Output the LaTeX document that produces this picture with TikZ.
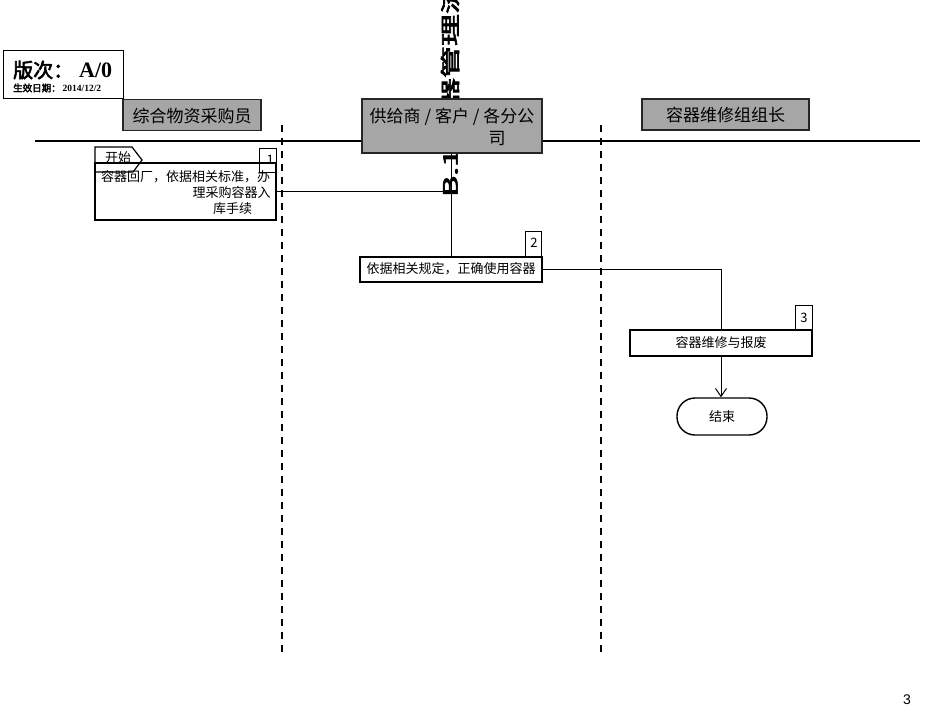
\documentclass[tikz,border=0pt]{standalone}
\usepackage{fontspec}
\setmainfont{Noto Sans CJK SC}
\newfontfamily\cjkb[FakeBold=3]{Noto Sans CJK SC}
\newfontfamily\serifb{Liberation Serif}
\newfontfamily\pnum{Liberation Sans}
\usetikzlibrary{arrows.meta}
\definecolor{lanegray}{RGB}{166,166,166}
\tikzset{
  lanehead/.style={draw=black!85, line width=1.6pt, fill=lanegray, inner sep=0pt},
  stepbox/.style={draw, line width=1.6pt, inner sep=0pt},
  numtag/.style={draw, line width=0.8pt, inner sep=0pt},
  txt/.style={inner sep=0pt, font=\fontsize{13}{15}\selectfont},
  headtxt/.style={inner sep=0pt, font=\fontsize{17}{20}\selectfont},
  conn/.style={line width=0.9pt},
  lanesep/.style={line width=1.8pt, dash pattern=on 7pt off 6pt},
}
\begin{document}
\begin{tikzpicture}[x=1pt,y=-1pt]
\useasboundingbox (0,0) rectangle (950,713);

% rotated title (partly hidden, as in the reference)
\node[rotate=90, anchor=west, inner sep=0pt] (title) at (450,197)
  {\scalebox{1}[0.62]{\cjkb\fontsize{32}{32}\selectfont B.1 容器管理流程}};

% version box
\node[draw, line width=0.8pt, minimum width=120pt, minimum height=48pt, inner sep=0pt] (ver) at (63,74) {};
\node[inner sep=0pt, anchor=west] (vert) at (13,70) {\cjkb\fontsize{20}{22}\selectfont 版次：\hspace{6pt}{\serifb\bfseries\fontsize{22}{24}\selectfont A/0}};
\node[inner sep=0pt, anchor=west] (vers) at (13,88) {\cjkb\fontsize{9.5}{11}\selectfont 生效日期：\hspace{2pt}{\serifb\bfseries 2014/12/2}};

% swimlane separator
\draw[line width=2pt] (35,141) coordinate (hl) -- (920,141) coordinate (hr);
\draw[lanesep] (282,125) coordinate (d1a) -- (282,657) coordinate (d1b);
\draw[lanesep] (601,125) coordinate (d2a) -- (601,657) coordinate (d2b);

% lane headers
\node[lanehead, minimum width=138pt, minimum height=31pt] (h1) at (192,115) {};
\node[headtxt] (h1t) at (192,116) {综合物资采购员};
\node[lanehead, minimum width=180pt, minimum height=54pt] (h2) at (452,126) {};
\node[headtxt] (h2t) at (452,117) {供给商 / 客户 / 各分公};
\node[headtxt] (h2u) at (497,139) {司};
\node[lanehead, minimum width=167pt, minimum height=31pt] (h3) at (725.5,114.5) {};
\node[headtxt] (h3t) at (725.5,115) {容器维修组组长};

% step 1
\node[stepbox, minimum width=181pt, minimum height=57pt] (b1) at (185.5,191.5) {};
\node[txt] (b1a) at (185.5,177) {容器回厂，依据相关标准，办};
\node[txt] (b1b) at (231.5,193) {理采购容器入};
\node[txt] (b1c) at (232.5,209) {库手续};
\draw[line width=1.2pt] (95,147) coordinate (s1) -- (132,147) -- (142,160) -- (133,172) -- (95,172) -- cycle;
\node[txt] (start) at (118,158) {开始};
\node[numtag, minimum width=17pt, minimum height=24pt] (t1) at (267.5,160.5) {};
\node[txt, anchor=east] (t1n) at (274,160) {1};

% step 2
\node[stepbox, minimum width=182pt, minimum height=25pt] (b2) at (451,269.5) {};
\node[txt] (b2t) at (451,269) {依据相关规定，正确使用容器};
\node[numtag, minimum width=16pt, minimum height=26pt] (t2) at (533,244) {};
\node[txt] (t2n) at (534,243) {2};

% step 3
\node[stepbox, minimum width=182pt, minimum height=26pt] (b3) at (721,343) {};
\node[txt] (b3t) at (721,343) {容器维修与报废};
\node[numtag, minimum width=17pt, minimum height=25pt] (t3) at (803.5,317.5) {};
\node[txt] (t3n) at (804,318) {3};

% end
\node[draw, line width=1.4pt, rounded corners=18pt, minimum width=90pt, minimum height=37pt, inner sep=0pt] (e) at (722,416.5) {};
\node[txt] (et) at (722,416.5) {结束};

% connectors
\draw[conn] (b1.east) -| (b2.north);
\draw[conn] (h2.south -| b2.north) -- (b2.north);
\draw[conn] (b2.east) -| (b3.north);
\draw[conn, -{Straight Barb[length=8pt, width=11pt, line width=1pt]}] (b3.south) -- (b3.south |- e.north);

% page number
\node[inner sep=0pt] (pg) at (907,700) {\pnum\fontsize{14}{16}\selectfont 3};
\end{tikzpicture}
\end{document}
